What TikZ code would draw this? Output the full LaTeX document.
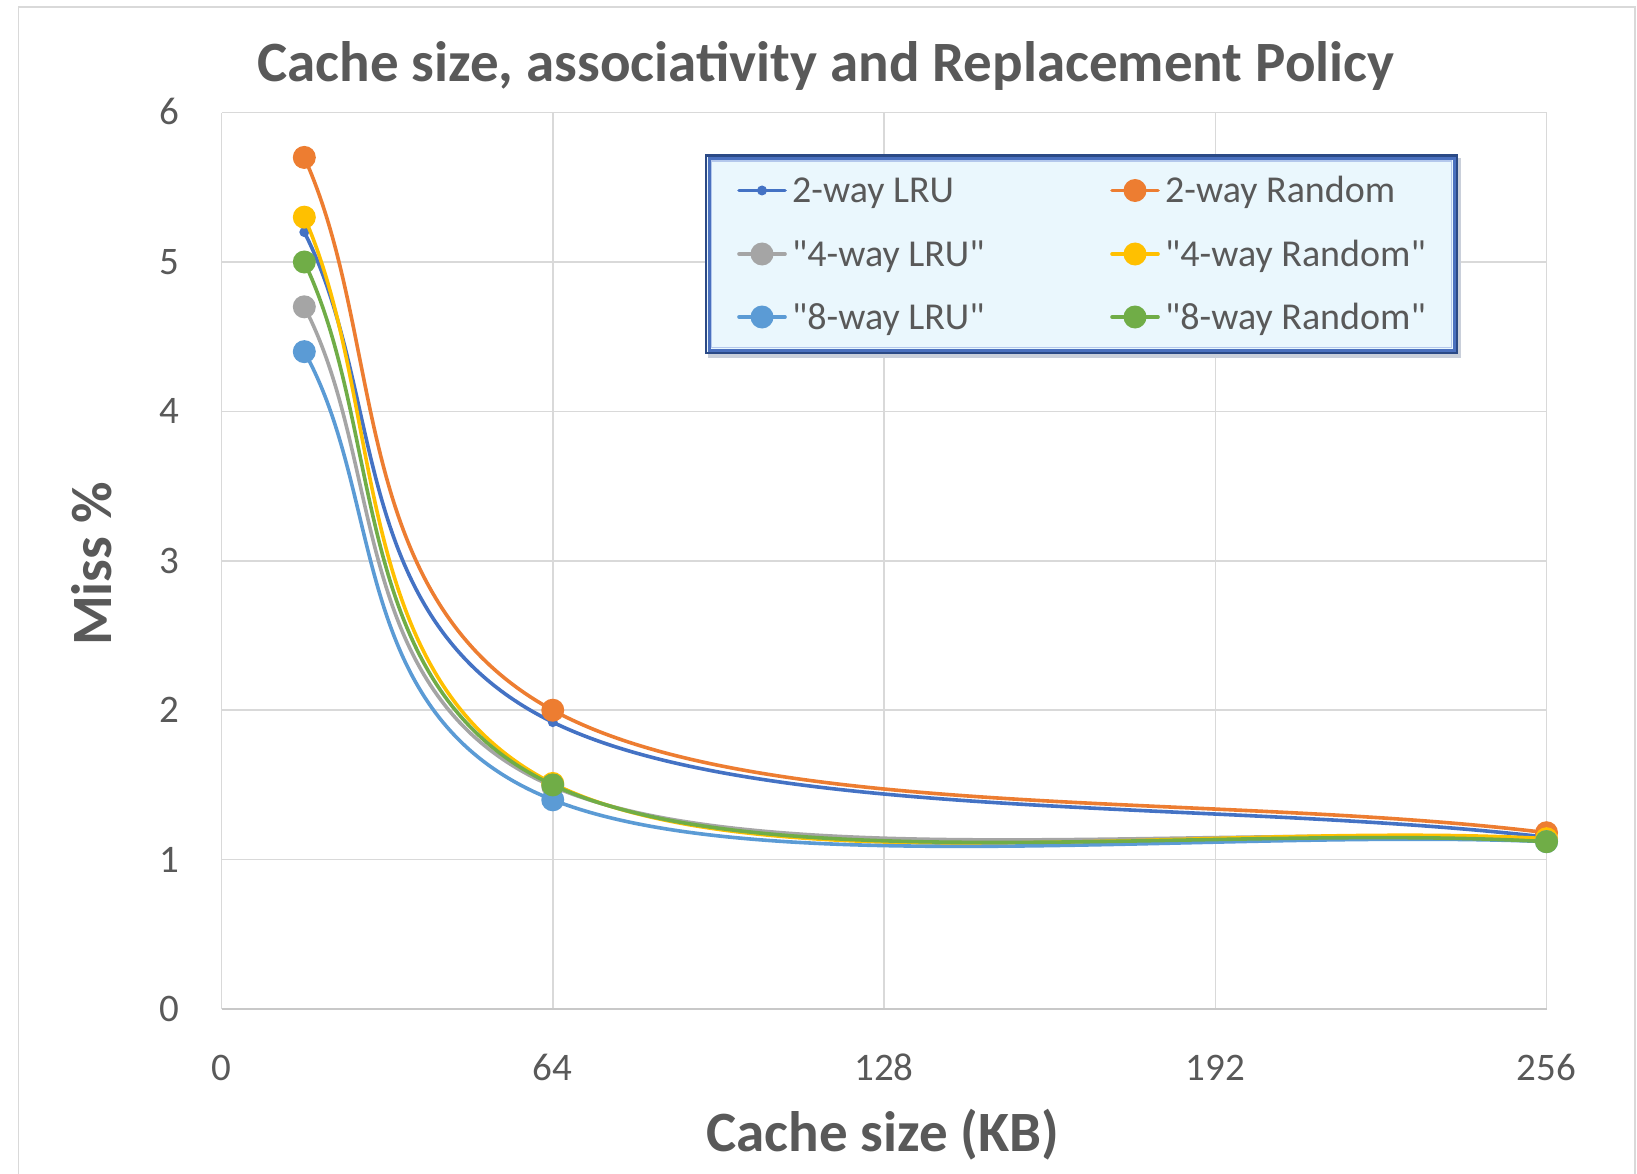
\documentclass[tikz,border=0pt]{standalone}
\usepackage{fontspec}
\setmainfont{Carlito}
\definecolor{txt}{HTML}{595959}
\definecolor{gridc}{HTML}{D9D9D9}
\definecolor{axisc}{HTML}{C8C8C8}
\definecolor{frame}{HTML}{D9D9D9}
\definecolor{sblue}{HTML}{4472C4}
\definecolor{sorange}{HTML}{ED7D31}
\definecolor{sgray}{HTML}{A5A5A5}
\definecolor{syellow}{HTML}{FFC000}
\definecolor{slblue}{HTML}{5B9BD5}
\definecolor{sgreen}{HTML}{70AD47}
\definecolor{legfill}{HTML}{EAF7FD}
\definecolor{legdark}{HTML}{2B4A86}
\definecolor{legmid}{HTML}{4A70BE}
\definecolor{leglight}{HTML}{B4C8EC}
\definecolor{legshadow}{HTML}{C9CFDA}

% Excel-style smoothed series through (16,a), (64,b), (256,c)
\newcommand\plotseries[6]{%
  \pgfmathsetmacro\cpa{#3+(#4-#3)/3}%
  \pgfmathsetmacro\cpb{#4-(#5-#3)/6}%
  \pgfmathsetmacro\cpc{#4+(#5-#3)/6}%
  \pgfmathsetmacro\cpd{#5-(#5-#4)/3}%
  \coordinate (#1-a) at (16,#3);
  \coordinate (#1-b) at (64,#4);
  \coordinate (#1-c) at (256,#5);
  \draw[serie,#2] (#1-a) .. controls (32,\cpa) and (24,\cpb) .. (#1-b)
                         .. controls (104,\cpc) and (192,\cpd) .. (#1-c);
  \fill[#2] (#1-a) circle[radius=#6] (#1-b) circle[radius=#6] (#1-c) circle[radius=#6];
}

% legend sample: line, marker and label
\newcommand\legentry[6]{%
  \draw[serie,#4] (#2,#3) -- ++(46,0);
  \fill[#4] (#2+23,#3) circle[radius=#5];
  \node[legtext] (#1) at (#2+53,#3+12.5) {#6};
}

\tikzset{
  gridl/.style={draw=gridc, line width=1.5pt},
  serie/.style={line width=3.6pt, line cap=round, line join=round},
  ticklab/.style={font=\fontsize{39}{39}\selectfont, text=txt, inner sep=0pt},
  axtitle/.style={font=\fontsize{57}{57}\selectfont\bfseries, text=txt, inner sep=0pt},
  legtext/.style={font=\fontsize{38}{38}\selectfont, text=txt, inner sep=0pt, anchor=base west},
}

\begin{document}
\begin{tikzpicture}[x=1pt,y=-1pt]
\useasboundingbox (0,0) rectangle (1637,1174);
\fill[white] (0,0) rectangle (1637,1174);

% chart frame
\draw[frame, line width=1.5pt] (18.5,1180) -- (18.5,7) -- (1635,7) -- (1635,1180);

% title
\node[font=\fontsize{57}{57}\selectfont\bfseries, text=txt, inner sep=0pt, anchor=base]
  (title) at (826,81.5) {Cache size, associativity and Replacement Policy};

% plot area
\begin{scope}[shift={(221.5pt,-1009pt)}, x=5.1758pt, y=149.4pt]
  \foreach \v in {1,...,6} \draw[gridl] (0,\v) -- (256,\v);
  \foreach \k in {0,64,128,192,256} \draw[gridl] (\k,0) -- (\k,6);
  \draw[axisc, line width=1.8pt] (0,0) -- (256,0);

  \foreach \v in {0,...,6}
    \node[ticklab, anchor=base east] (ylab\v) at ([xshift=-41.9pt,yshift=-12.4pt]0,\v) {\v};
  \foreach \k in {0,64,128,192,256}
    \node[ticklab, anchor=base] (xlab\k) at ([yshift=-71.5pt]\k,0) {\k};

  \plotseries{lru2}{sblue}{5.2}{1.92}{1.15}{5pt}
  \plotseries{rnd2}{sorange}{5.7}{2.0}{1.18}{11.5pt}
  \plotseries{lru4}{sgray}{4.7}{1.49}{1.13}{11.5pt}
  \plotseries{rnd4}{syellow}{5.3}{1.51}{1.14}{11.5pt}
  \plotseries{lru8}{slblue}{4.4}{1.4}{1.12}{11.5pt}
  \plotseries{rnd8}{sgreen}{5.0}{1.5}{1.12}{11.5pt}
\end{scope}

% axis titles
\node[axtitle, anchor=base] (xtitle) at (883,1151.5) {Cache size (KB)};
\node[axtitle, rotate=90, anchor=center] (ytitle) at (92,564) {Miss \%};

% legend: soft shadow, light fill, bevelled blue border
\fill[legshadow] (708,158) rectangle (1461,357.5);
\fill[legfill] (705,154.5) rectangle (1458,354);
\draw[legdark, line width=2.5pt] (706,155.5) rectangle (1457,353);
\draw[legmid, line width=3pt] (709,158.5) rectangle (1454,350);
\draw[leglight, line width=1.5pt] (711.5,161) rectangle (1451.5,347.5);

\legentry{leg1}{739}{190.5}{sblue}{5pt}{2-way LRU}
\legentry{leg2}{1112}{190.5}{sorange}{11.5pt}{2-way Random}
\legentry{leg3}{739}{254}{sgray}{11.5pt}{\textquotedbl 4-way LRU\textquotedbl}
\legentry{leg4}{1112}{254}{syellow}{11.5pt}{\textquotedbl 4-way Random\textquotedbl}
\legentry{leg5}{739}{317}{slblue}{11.5pt}{\textquotedbl 8-way LRU\textquotedbl}
\legentry{leg6}{1112}{317}{sgreen}{11.5pt}{\textquotedbl 8-way Random\textquotedbl}
\end{tikzpicture}
\end{document}
